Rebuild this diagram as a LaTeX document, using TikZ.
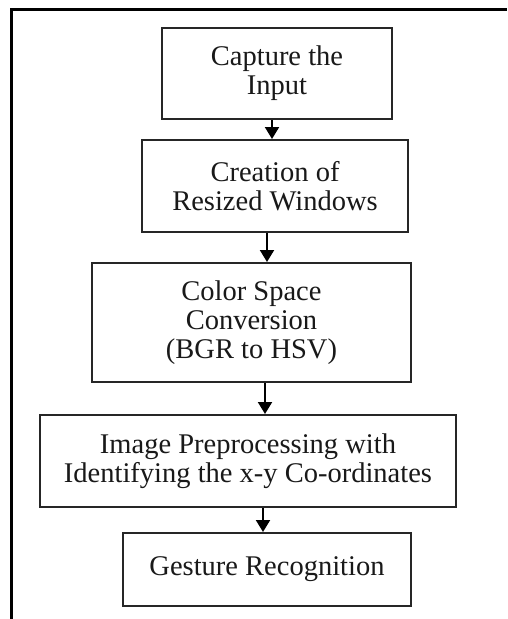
\documentclass[tikz,border=0pt]{standalone}
\usepackage{fontspec}
\setmainfont{Liberation Serif}
\usetikzlibrary{arrows.meta}
\begin{document}
\begin{tikzpicture}[x=1pt,y=-1pt,
  stepbox/.style={draw=black!85, line width=2pt, align=center, inner sep=0pt,
    font=\fontsize{28.5}{29}\selectfont, text=black!90},
  arr/.style={draw=black, line width=2pt, -{Triangle[length=12pt,width=14pt]}},
  frame/.style={draw=black, line width=3pt}]
\useasboundingbox (0,0) rectangle (507,619);
\fill[white] (0,0) rectangle (507,619);
\coordinate (fa) at (11,619);
\coordinate (fb) at (11,9);
\coordinate (fc) at (507,9);
\draw[frame] (fa) -- (fb) -- (fc);
\node[stepbox, minimum width=230pt, minimum height=91pt] (b1) at (277,73.5) {Capture the\\Input};
\node[stepbox, minimum width=266pt, minimum height=92pt] (b2) at (275,186) {Creation of\\Resized Windows};
\node[stepbox, minimum width=319pt, minimum height=119pt] (b3) at (251.5,322.5) {Color Space\\Conversion\\(BGR to HSV)};
\node[stepbox, minimum width=416pt, minimum height=92pt] (b4) at (248,461) {Image Preprocessing with\\Identifying the x-y Co-ordinates};
\node[stepbox, minimum width=288pt, minimum height=73pt] (b5) at (267,569.5) {Gesture Recognition};
\draw[arr] ([xshift=-5pt]b1.south) -- ([xshift=-3pt]b2.north);
\draw[arr] ([xshift=-8pt]b2.south) -- ([xshift=15.5pt]b3.north);
\draw[arr] ([xshift=13.5pt]b3.south) -- ([xshift=17pt]b4.north);
\draw[arr] ([xshift=15pt]b4.south) -- ([xshift=-4pt]b5.north);
\end{tikzpicture}
\end{document}
